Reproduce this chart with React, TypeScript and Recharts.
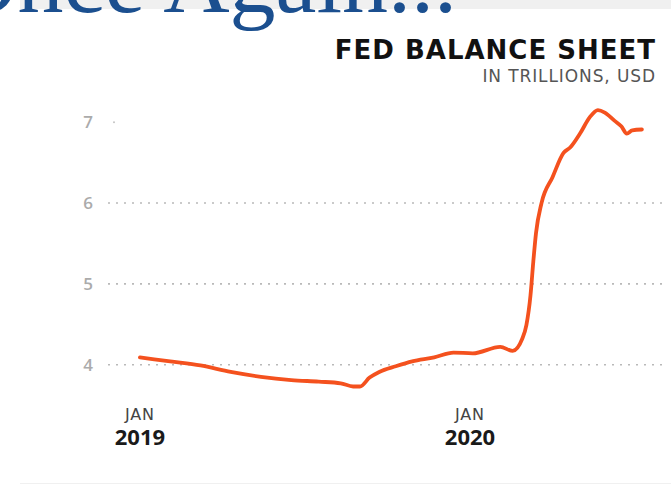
import React from 'react';
import { LineChart, Line, XAxis, YAxis, ReferenceLine } from 'recharts';

// months since Jan 2019
const MONTHS = [
    0, 1.1, 2.2, 3.3, 4.4, 5.5, 6.5, 7.3, 7.75, 8.0, 8.35, 8.7, 9.3, 9.9, 10.7, 11.4, 12.1,
    13.1, 13.55, 13.9, 14.05, 14.2, 14.3, 14.4, 14.6, 15.0, 15.4, 15.65, 16.0, 16.35, 16.65,
    16.9, 17.25, 17.5, 17.7, 17.9, 18.25,
];
// total assets, trillions USD
const ASSETS = [
    4.09, 4.04, 3.99, 3.91, 3.85, 3.81, 3.79, 3.77, 3.73, 3.73, 3.84, 3.91, 3.98, 4.04, 4.09, 4.15, 4.14,
    4.22, 4.17, 4.32, 4.49, 4.86, 5.27, 5.63, 6.0, 6.32, 6.62, 6.69, 6.86, 7.06, 7.15,
    7.12, 7.02, 6.95, 6.86, 6.9, 6.91,
];
const Y_TICKS = [4, 5, 6, 7];
const GRID_VALUES = [4, 5, 6];
const X_TICKS = [0, 12];
const X_LABELS: Record<number, [string, string]> = { 0: ['JAN', '2019'], 12: ['JAN', '2020'] };

const data = MONTHS.map((m, i) => ({ m, v: ASSETS[i] }));

const SANS = '"Open Sans", "DejaVu Sans", sans-serif';
const WIDE = '"DejaVu Sans", sans-serif';

const YTick = ({ x, y, payload }: any) => (
    <g>
        <text x={Number(x) - 12} y={Number(y)} dy={6} textAnchor="middle"
            fill="#ababab" fontSize={17} fontWeight={600} fontFamily={SANS}>
            {payload.value}
        </text>
        {payload.value === 7 && <circle cx={Number(x) + 14} cy={Number(y)} r={1} fill="#c4c4c4" />}
    </g>
);

const XTick = ({ x, y, payload }: any) => {
    const [mon, yr] = X_LABELS[payload.value] ?? ['', ''];
    return (
        <g>
            <text x={Number(x)} y={Number(y) + 15} textAnchor="middle" letterSpacing={0.8}
                fill="#444" fontSize={16} fontFamily={WIDE}>{mon}</text>
            <text x={Number(x)} y={Number(y) + 40} textAnchor="middle"
                fill="#1a1a1a" fontSize={22} fontWeight={700} fontFamily={SANS}>{yr}</text>
        </g>
    );
};

export default function App() {
    return (
        <div style={{ position: 'fixed', left: 0, top: 0, width: 671, height: 486, background: '#fff', overflow: 'hidden' }}>
            {/* slide heading, mostly cropped off the top */}
            <svg width={671} height={40} style={{ position: 'absolute', left: 0, top: 0 }}>
                <rect x={20} y={0} width={651} height={9} fill="#f0f0f0" />
                <text x={457} y={12} textAnchor="end" fontFamily='"Liberation Serif", serif'
                    fontSize={92} fill="#1b4f8f">
                    Once Again...
                </text>
            </svg>
            <div style={{ position: 'absolute', left: 20, right: 0, top: 483, height: 1, background: '#f0f0f0' }} />

            <div style={{ position: 'absolute', right: 15, top: 35, textAlign: 'right', fontFamily: WIDE }}>
                <div style={{ fontSize: 26, fontWeight: 700, color: '#111', lineHeight: '30px', letterSpacing: 1 }}>
                    FED BALANCE SHEET
                </div>
                <div style={{ fontSize: 17, color: '#555', lineHeight: '22px', letterSpacing: 0.9 }}>
                    IN TRILLIONS, USD
                </div>
            </div>

            <div style={{ position: 'absolute', left: 0, top: 0 }}>
                <LineChart width={671} height={486} data={data}
                    margin={{ top: 98, right: 9, bottom: 29, left: 48 }}>
                    <XAxis dataKey="m" type="number" domain={[-1.16, 18.98]} ticks={X_TICKS}
                        axisLine={false} tickLine={false} height={60} tick={<XTick />} interval={0} />
                    <YAxis type="number" domain={[3.6, 7.3]} ticks={Y_TICKS} width={60}
                        axisLine={false} tickLine={false} tick={<YTick />} interval={0} />
                    {GRID_VALUES.map(g => (
                        <ReferenceLine key={g} y={g} stroke="#b9b9b9" strokeWidth={1.6} strokeDasharray="2 6" />
                    ))}
                    <Line type="monotone" dataKey="v" stroke="#f4511e" strokeWidth={3.8}
                        dot={false} isAnimationActive={false} strokeLinejoin="round" strokeLinecap="round" />
                </LineChart>
            </div>
        </div>
    );
}
